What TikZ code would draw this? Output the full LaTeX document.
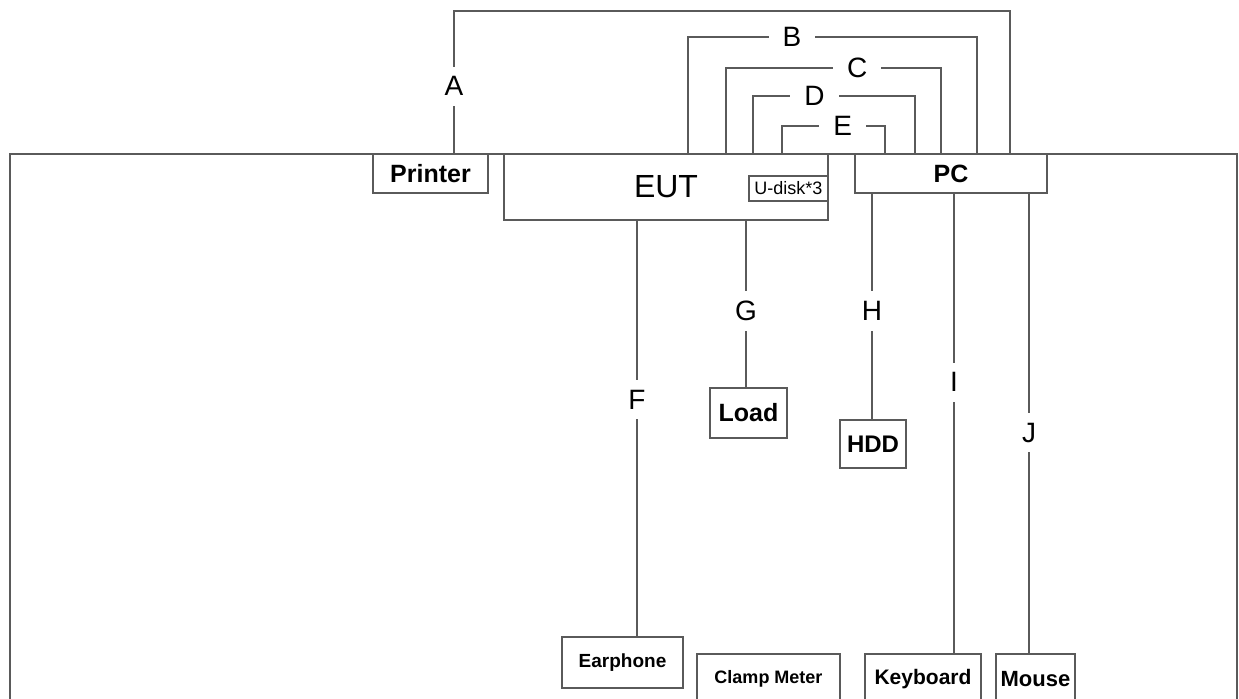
\documentclass[tikz,border=0pt]{standalone}
\usepackage{fontspec}
\setmainfont{Liberation Sans}
\usepackage{xcolor}
\usepackage{tikz}
\definecolor{wire}{HTML}{5A5A5A}
\tikzset{
  unit/.style   = {shape=rectangle, draw=wire, line width=1pt,
                   inner sep=0pt, align=center, font=\bfseries},
  port/.style   = {unit, font=\fontsize{9}{9}\selectfont},
  cable/.style  = {draw=wire, line width=1pt},
  tag/.style    = {fill=white, inner xsep=7pt, inner ysep=5pt,
                   font=\fontsize{14}{14}\selectfont},
  fsize/.style  = {font=\bfseries\fontsize{#1}{#1}\selectfont}
}
\begin{document}
\begin{tikzpicture}[x=0.5pt, y=-0.5pt]
  \clip (0,0) rectangle (1239,698);
  % table top
  \draw[cable] (10,710) |- (1237,154) -- (1237,710);
  % units on the table
  \node [unit, fsize=12.5, minimum width=57.5pt, minimum height=19.5pt] (printer) at (430.5,173.5) {Printer};
  \node [unit, font=\fontsize{16}{16}\selectfont, minimum width=162pt, minimum height=33pt] (eut) at (666,187) {EUT};
  \node [port, minimum width=39.5pt, minimum height=12.5pt] (udisk) at (788.5,188.5) {U-disk*3};
  \node [unit, fsize=12.5, minimum width=96pt, minimum height=19.5pt] (pc) at (951,173.5) {PC};
  % units below
  \node [unit, fsize=12.5, minimum width=38.5pt, minimum height=25pt] (load) at (748.5,413) {Load};
  \node [unit, fsize=12, minimum width=33pt, minimum height=24pt] (hdd) at (873,444) {HDD};
  \node [unit, fsize=9.5, minimum width=60.5pt, minimum height=25.5pt] (earphone) at (622.5,662.5) {Earphone};
  \node [unit, fsize=9, minimum width=71.5pt, minimum height=25pt] (clamp) at (768.5,679) {Clamp Meter};
  \node [unit, fsize=10.5, minimum width=58pt, minimum height=25pt] (keyboard) at (923,679) {Keyboard};
  \node [unit, fsize=11, minimum width=39.5pt, minimum height=25pt] (mouse) at (1035.5,679) {Mouse};
  % cables over the table
  \draw[cable] (printer.north -| 454,0) -- node[tag, pos=0.47] {A} (454,11)
    -- (1010,11) -- (pc.north -| 1010,0);
  \draw[cable] (eut.north -| 688,0) -- (688,37)
    -- node[tag, pos=0.36] {B} (977,37) -- (pc.north -| 977,0);
  \draw[cable] (eut.north -| 726,0) -- (726,68)
    -- node[tag, pos=0.61] {C} (941,68) -- (pc.north -| 941,0);
  \draw[cable] (eut.north -| 753,0) -- (753,96)
    -- node[tag, pos=0.38] {D} (915,96) -- (pc.north -| 915,0);
  \draw[cable] (eut.north -| 782,0) -- (782,126)
    -- node[tag, pos=0.59] {E} (885,126) -- (pc.north -| 885,0);
  % cables down
  \draw[cable] (eut.south -| 637,0) -- node[tag, pos=0.43] {F} (earphone.north -| 637,0);
  \draw[cable] (eut.south -| 746,0) -- node[tag, pos=0.54] {G} (load.north -| 746,0);
  \draw[cable] (pc.south -| 872,0) -- node[tag, pos=0.52] {H} (hdd.north -| 872,0);
  \draw[cable] (pc.south -| 954,0) -- node[tag, pos=0.41] {I} (keyboard.north -| 954,0);
  \draw[cable] (pc.south -| 1029,0) -- node[tag, pos=0.52] {J} (mouse.north -| 1029,0);
\end{tikzpicture}
\end{document}
